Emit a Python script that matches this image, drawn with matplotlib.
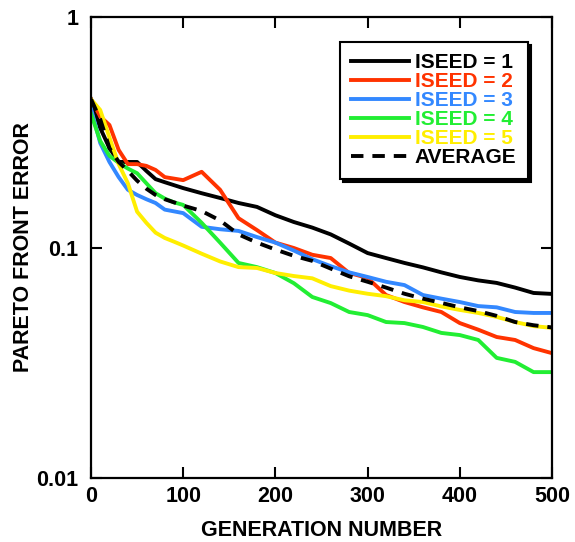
import matplotlib
matplotlib.use("Agg")
import matplotlib.pyplot as plt

plt.rcParams['font.family'] = ['Liberation Sans', 'DejaVu Sans']
plt.rcParams['font.weight'] = 'bold'

gen_a = [0, 10, 20, 30, 40, 50, 60, 70, 80, 100, 120, 140, 160, 180, 200, 220, 240, 260,
         280, 300, 320, 340, 360, 380, 400, 420, 440, 460, 480, 500]
iseed1 = [0.44, 0.33, 0.27, 0.235, 0.235, 0.235, 0.215, 0.198, 0.192, 0.181, 0.172, 0.164,
          0.156, 0.150, 0.138, 0.129, 0.122, 0.114, 0.104, 0.0946, 0.090, 0.0857, 0.082,
          0.078, 0.0745, 0.072, 0.0702, 0.067, 0.0635, 0.0629]
iseed2 = [0.44, 0.37, 0.34, 0.265, 0.23, 0.23, 0.226, 0.217, 0.202, 0.196, 0.213, 0.178,
          0.134, 0.119, 0.105, 0.0995, 0.093, 0.090, 0.0775, 0.0738, 0.0622, 0.058, 0.055,
          0.0525, 0.047, 0.044, 0.0409, 0.0397, 0.0366, 0.0348]
iseed3 = [0.40, 0.284, 0.235, 0.202, 0.178, 0.169, 0.162, 0.156, 0.146, 0.141, 0.123, 0.120,
          0.118, 0.111, 0.105, 0.097, 0.089, 0.083, 0.078, 0.0745, 0.071, 0.0687, 0.0622,
          0.060, 0.058, 0.0557, 0.055, 0.0525, 0.052, 0.052]

gen_b = [0, 10, 20, 30, 40, 50, 60, 70, 80, 90, 100, 120, 140, 160, 180, 200, 220, 240, 260,
         280, 300, 320, 340, 360, 380, 400, 420, 440, 460, 480, 500]
iseed4 = [0.38, 0.29, 0.25, 0.233, 0.22, 0.21, 0.19, 0.172, 0.163, 0.157, 0.153, 0.128,
          0.105, 0.0857, 0.0822, 0.0775, 0.070, 0.061, 0.0574, 0.0525, 0.0509, 0.0475,
          0.047, 0.0452, 0.0426, 0.0417, 0.0397, 0.0332, 0.0319, 0.0288, 0.0288]
iseed5 = [0.44, 0.395, 0.30, 0.23, 0.19, 0.143, 0.128, 0.116, 0.110, 0.106, 0.102, 0.094,
          0.087, 0.0822, 0.0815, 0.0775, 0.0752, 0.0735, 0.068, 0.065, 0.063, 0.0615,
          0.059, 0.058, 0.0555, 0.0536, 0.052, 0.050, 0.0475, 0.0456, 0.0448]
average = [0.44, 0.36, 0.27, 0.235, 0.215, 0.195, 0.18, 0.169, 0.162, 0.157, 0.152, 0.144,
           0.131, 0.114, 0.105, 0.098, 0.092, 0.0875, 0.081, 0.075, 0.071, 0.067, 0.063,
           0.060, 0.0575, 0.055, 0.053, 0.0505, 0.0475, 0.046, 0.045]

labels = ["ISEED = 1", "ISEED = 2", "ISEED = 3", "ISEED = 4", "ISEED = 5", "AVERAGE"]
colors = ["#000000", "#ff3300", "#3388ff", "#22ee33", "#ffee00", "#000000"]

x_ticks = [0, 100, 200, 300, 400, 500]
y_ticks = [0.01, 0.1, 1]
y_ticklabels = ["0.01", "0.1", "1"]

fig = plt.figure(figsize=(5.75, 5.42), dpi=100)
ax = fig.add_axes([91/575, 1 - 478/542, 461/575, 461/542])

lw = 2.8
ax.plot(gen_a, iseed1, color=colors[0], lw=lw, label=labels[0])
ax.plot(gen_a, iseed2, color=colors[1], lw=lw, label=labels[1])
ax.plot(gen_a, iseed3, color=colors[2], lw=lw, label=labels[2])
ax.plot(gen_b, iseed4, color=colors[3], lw=lw, label=labels[3])
ax.plot(gen_b, iseed5, color=colors[4], lw=lw, label=labels[4])
ax.plot(gen_b, average, color=colors[5], lw=lw, ls=(0, (3.2, 2.3)), label=labels[5])

ax.set_yscale('log')
ax.set_xlim(0, 500)
ax.set_ylim(0.01, 1)
ax.set_xticks(x_ticks)
ax.set_xticklabels([str(v) for v in x_ticks])
ax.set_yticks(y_ticks)
ax.set_yticklabels(y_ticklabels)
ax.minorticks_off()
ax.tick_params(direction='in', length=8, width=1.5, top=True, right=True,
               labelsize=15.5)
ax.tick_params(axis='y', pad=9)
ax.tick_params(axis='x', pad=6)
for lab in ax.get_xticklabels() + ax.get_yticklabels():
    lab.set_fontweight('bold')
for s in ax.spines.values():
    s.set_linewidth(1.6)

ax.set_xlabel("GENERATION NUMBER", fontsize=15.5, fontweight='bold')
ax.set_ylabel("PARETO FRONT ERROR", fontsize=15.5, fontweight='bold')
ax.xaxis.label.set_verticalalignment('center')
ax.yaxis.label.set_verticalalignment('center')
ax.yaxis.label.set_horizontalalignment('center')
ax.xaxis.set_label_coords(0.5, (478 - 531) / 461)
ax.yaxis.set_label_coords((24 - 91) / 461, 0.5)

leg = ax.legend(loc='upper right', bbox_to_anchor=(528/575, 1 - 42/542),
                bbox_transform=fig.transFigure, frameon=True, fancybox=False,
                shadow={'color': 'black', 'alpha': 1}, edgecolor='black',
                framealpha=1, prop={'weight': 'bold', 'size': 15},
                labelcolor='linecolor', handlelength=2.75, handletextpad=0.3,
                labelspacing=0.0, borderpad=0.55, borderaxespad=0)
leg.get_frame().set_linewidth(1.5)

fig.savefig("out.png", dpi=100)
